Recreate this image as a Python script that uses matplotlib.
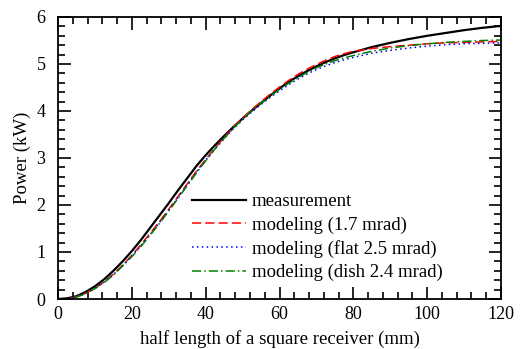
import matplotlib
matplotlib.use("Agg")
import matplotlib.pyplot as plt
from matplotlib.ticker import MultipleLocator

x = [0, 2.5, 5, 7.5, 10, 12.5, 15, 17.5, 20, 22.5, 25, 27.5, 30, 32.5, 35, 37.5,
     40, 42.5, 45, 47.5, 50, 52.5, 55, 57.5, 60, 62.5, 65, 67.5, 70, 72.5, 75, 77.5,
     80, 85, 90, 95, 100, 105, 110, 115, 120]
measurement = [0, 0.015, 0.06, 0.15, 0.27, 0.42, 0.6, 0.8, 1.02, 1.26, 1.52, 1.78, 2.04, 2.31, 2.57, 2.83,
               3.06, 3.27, 3.47, 3.66, 3.84, 4.01, 4.17, 4.33, 4.48, 4.62, 4.74, 4.85, 4.95, 5.04, 5.12, 5.19,
               5.25, 5.36, 5.45, 5.53, 5.6, 5.66, 5.72, 5.77, 5.81]
model_17 = [0, 0.01, 0.045, 0.12, 0.23, 0.37, 0.53, 0.72, 0.93, 1.16, 1.4, 1.65, 1.91, 2.18, 2.45, 2.72,
            2.97, 3.21, 3.44, 3.65, 3.85, 4.03, 4.2, 4.36, 4.51, 4.65, 4.78, 4.89, 4.99, 5.08, 5.16, 5.22,
            5.27, 5.33, 5.37, 5.4, 5.43, 5.45, 5.46, 5.47, 5.48]
model_flat = [0, 0.01, 0.045, 0.12, 0.23, 0.36, 0.52, 0.71, 0.92, 1.14, 1.38, 1.63, 1.89, 2.16, 2.43, 2.7,
              2.95, 3.19, 3.41, 3.62, 3.81, 3.98, 4.14, 4.29, 4.43, 4.56, 4.68, 4.79, 4.88, 4.96, 5.03, 5.09,
              5.14, 5.23, 5.29, 5.34, 5.38, 5.41, 5.43, 5.44, 5.45]
model_dish = [0, 0.01, 0.04, 0.11, 0.22, 0.35, 0.51, 0.7, 0.9, 1.12, 1.36, 1.61, 1.87, 2.14, 2.41, 2.68,
              2.94, 3.19, 3.42, 3.63, 3.83, 4.01, 4.17, 4.32, 4.46, 4.59, 4.71, 4.82, 4.92, 5.0, 5.07, 5.13,
              5.18, 5.27, 5.34, 5.39, 5.43, 5.46, 5.48, 5.5, 5.51]
labels = ["measurement", "modeling (1.7 mrad)", "modeling (flat 2.5 mrad)", "modeling (dish 2.4 mrad)"]

plt.rcParams['font.family'] = ['Liberation Serif', 'DejaVu Serif']

fig = plt.figure(figsize=(5.24, 3.49), dpi=100)
ax = fig.add_axes([58/524, 1 - 299/349, 443/524, 282/349])

ax.plot(x, measurement, color='black', lw=1.6, ls='-', label=labels[0])
ax.plot(x, model_17, color='#ff0000', lw=1.1, ls=(0, (6, 2.7)), label=labels[1])
ax.plot(x, model_flat, color='#0000ff', lw=1.1, ls=(0, (1, 2.2)), label=labels[2])
ax.plot(x, model_dish, color='#008000', lw=1.1, ls=(0, (6, 2, 1, 2)), label=labels[3])

ax.set_xlim(0, 120)
ax.set_ylim(0, 6)
ax.xaxis.set_major_locator(MultipleLocator(20))
ax.xaxis.set_minor_locator(MultipleLocator(4))
ax.yaxis.set_major_locator(MultipleLocator(1))
ax.yaxis.set_minor_locator(MultipleLocator(0.2))
ax.tick_params(which='both', direction='in', top=True, right=True, labelsize=13, width=1.2)
ax.tick_params(axis='y', which='major', pad=9)
ax.tick_params(axis='x', which='major', pad=5)
ax.tick_params(which='major', length=9)
ax.tick_params(which='minor', length=5)
for s in ax.spines.values():
    s.set_linewidth(1.3)

ax.set_xlabel("half length of a square receiver (mm)", fontsize=13.5, labelpad=5)
ax.set_ylabel("Power (kW)", fontsize=13.5, labelpad=4)

leg = ax.legend(loc='upper left', bbox_to_anchor=((192 - 58) / 443, (299 - 193) / 282),
                frameon=False, fontsize=13.5, handlelength=2.9, handletextpad=0.3,
                labelspacing=0.33, borderaxespad=0, borderpad=0)

fig.savefig("out.png", dpi=100)
